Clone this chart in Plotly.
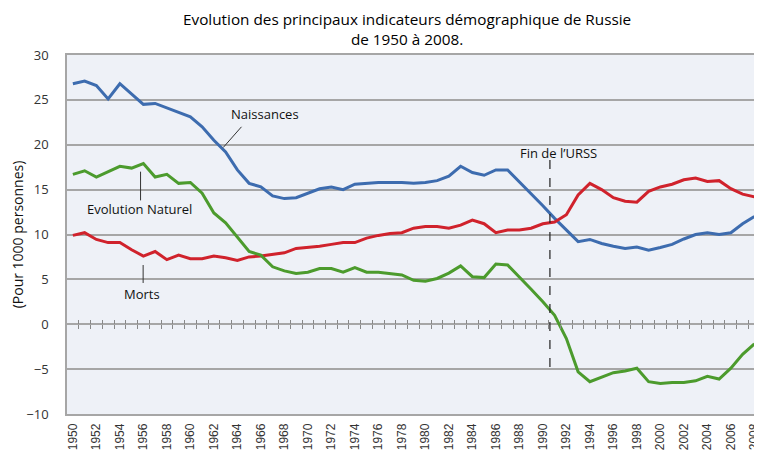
import plotly.graph_objects as go

years = list(range(1950, 2009))

naissances = [26.8, 27.1, 26.6, 25.1, 26.8, 25.7, 24.5, 24.6, 24.1, 23.6,
              23.1, 22.0, 20.5, 19.2, 17.2, 15.7, 15.3, 14.3, 14.0, 14.1,
              14.6, 15.1, 15.3, 15.0, 15.6, 15.7, 15.8, 15.8, 15.8, 15.7,
              15.8, 16.0, 16.5, 17.6, 16.9, 16.6, 17.2, 17.2, 15.9, 14.5,
              13.2, 11.8, 10.5, 9.2, 9.45, 9.0, 8.7, 8.45, 8.6, 8.26,
              8.56, 8.9, 9.5, 10.0, 10.2, 10.0, 10.2, 11.2, 12.0]

morts = [9.9, 10.2, 9.45, 9.1, 9.1, 8.3, 7.6, 8.1, 7.2, 7.7,
         7.3, 7.3, 7.6, 7.4, 7.1, 7.5, 7.6, 7.8, 7.96, 8.45,
         8.55, 8.7, 8.9, 9.1, 9.1, 9.6, 9.9, 10.1, 10.2, 10.7,
         10.9, 10.9, 10.7, 11.05, 11.6, 11.2, 10.2, 10.5, 10.5, 10.7,
         11.2, 11.4, 12.2, 14.4, 15.7, 15.0, 14.1, 13.7, 13.6, 14.8,
         15.3, 15.6, 16.1, 16.3, 15.9, 16.0, 15.1, 14.5, 14.2]

evolution = [16.7, 17.1, 16.4, 17.0, 17.6, 17.4, 17.9, 16.4, 16.7, 15.7,
             15.8, 14.6, 12.4, 11.3, 9.7, 8.1, 7.7, 6.4, 5.95, 5.65,
             5.8, 6.2, 6.2, 5.8, 6.3, 5.8, 5.8, 5.65, 5.5, 4.9,
             4.8, 5.1, 5.7, 6.5, 5.3, 5.2, 6.7, 6.6, 5.3, 3.9,
             2.5, 1.0, -1.6, -5.3, -6.4, -5.9, -5.4, -5.2, -4.9, -6.4,
             -6.6, -6.5, -6.5, -6.3, -5.8, -6.1, -4.9, -3.35, -2.2]

tick_years = list(range(1950, 2009, 2))
tick_labels = [str(y) for y in tick_years]
boundary_ticks = [y + 0.5 for y in range(1950, 2008)]

BLUE = "#3d6caf"
RED = "#d0222c"
GREEN = "#4c9b2d"
GRID = "#a6a6a6"
FONT = "Open Sans"

# page body has an 8px margin: figure is sized to fit inside the window
W, H = 754, 447
ML, MR, MT, MB = 59, 0, 47, 41
PH = H - MT - MB

fig = go.Figure()
fig.add_trace(go.Scatter(x=years, y=naissances, mode="lines", name="Naissances",
                         line=dict(color=BLUE, width=3)))
fig.add_trace(go.Scatter(x=years, y=morts, mode="lines", name="Morts",
                         line=dict(color=RED, width=3)))
fig.add_trace(go.Scatter(x=years, y=evolution, mode="lines", name="Evolution Naturel",
                         line=dict(color=GREEN, width=3)))
# invisible traces to carry the tick axes on the zero line
fig.add_trace(go.Scatter(x=[1950], y=[0], xaxis="x2", mode="markers",
                         marker=dict(opacity=0), showlegend=False, hoverinfo="skip"))
fig.add_trace(go.Scatter(x=[1950], y=[0], xaxis="x3", mode="markers",
                         marker=dict(opacity=0), showlegend=False, hoverinfo="skip"))

xr = [1949.5, 2008.65]

fig.update_layout(
    width=W, height=H,
    margin=dict(l=ML, r=MR, t=MT, b=MB),
    paper_bgcolor="white",
    plot_bgcolor="#eef1f7",
    showlegend=False,
    xaxis=dict(
        range=xr, tickmode="array", tickvals=tick_years, ticktext=tick_labels,
        tickangle=-90, showgrid=False, zeroline=False,
        showline=True, linecolor=GRID, linewidth=1.5, mirror=True,
        ticks="", ticklabelstandoff=3, ticklabeloverflow="allow",
        tickfont=dict(family="Liberation Sans", size=12, color="#333"),
        automargin=False,
    ),
    xaxis2=dict(
        range=xr, overlaying="x", anchor="free", position=0.25, side="bottom",
        tickmode="array", tickvals=boundary_ticks, ticks="outside", ticklen=4,
        tickwidth=1, tickcolor="#888", showticklabels=False, showgrid=False,
        zeroline=False, showline=False,
    ),
    xaxis3=dict(
        range=xr, overlaying="x", anchor="free", position=0.25, side="bottom",
        tickmode="array", tickvals=boundary_ticks, ticks="inside", ticklen=4,
        tickwidth=1, tickcolor="#888", showticklabels=False, showgrid=False,
        zeroline=False, showline=False,
    ),
    yaxis=dict(
        range=[-10, 30], dtick=5, tick0=0,
        showgrid=True, gridcolor=GRID, gridwidth=1.5,
        zeroline=True, zerolinecolor=GRID, zerolinewidth=1.5,
        showline=True, linecolor=GRID, linewidth=1.5,
        ticks="", ticklabelstandoff=14,
        tickfont=dict(family=FONT, size=13, color="#333"),
        title=dict(text="(Pour 1000 personnes)", standoff=10,
                   font=dict(family=FONT, size=14, color="#111")),
        automargin=False,
    ),
)

# title as annotation (two lines)
fig.add_annotation(
    xref="paper", yref="paper",
    x=(399 - ML) / (W - ML - MR), y=1 + (MT + 1) / PH,
    xanchor="center", yanchor="top", showarrow=False,
    text="Evolution des principaux indicateurs démographique de Russie<br>de 1950 à 2008.",
    font=dict(family=FONT, size=15.3, color="#000"),
)

# leader lines
leader = dict(color="#333", width=1)
fig.add_shape(type="line", xref="x", yref="y", x0=1962.8, y0=19.7, x1=1964.35, y1=22.0, line=leader)
fig.add_shape(type="line", xref="x", yref="y", x0=1955.76, y0=17.0, x1=1955.76, y1=13.8, line=leader)
fig.add_shape(type="line", xref="x", yref="y", x0=1955.98, y0=6.6, x1=1955.98, y1=4.6, line=leader)
# end of USSR
fig.add_shape(type="line", xref="x", yref="y", x0=1990.6, y0=18.3, x1=1990.6, y1=-5.6,
              line=dict(color="#222", width=1.2, dash="dash"))

ann_font = dict(family=FONT, size=13, color="#111")
fig.add_annotation(x=1966.35, y=23.4, text="Naissances", showarrow=False, font=ann_font)
fig.add_annotation(x=1955.67, y=12.85, text="Evolution Naturel", showarrow=False, font=ann_font)
fig.add_annotation(x=1955.9, y=3.35, text="Morts", showarrow=False, font=ann_font)
fig.add_annotation(x=1991.35, y=19.1, text="Fin de l’URSS", showarrow=False, font=ann_font)

fig.write_html("out.html")
